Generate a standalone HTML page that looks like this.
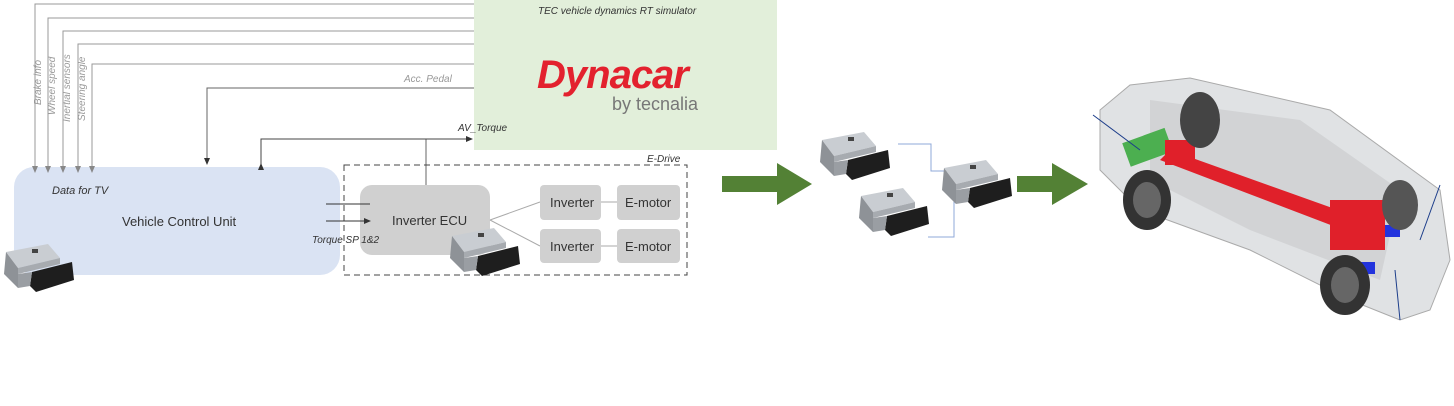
<!DOCTYPE html>
<html><head><meta charset="utf-8"><style>
body{margin:0;background:#fff;width:1454px;height:401px;overflow:hidden}
text{font-family:"Liberation Sans",sans-serif}
</style></head><body>
<svg width="1454" height="401" viewBox="0 0 1454 401" xmlns="http://www.w3.org/2000/svg">
<defs>
<marker id="a" markerWidth="8" markerHeight="8" refX="6" refY="4" orient="auto"><path d="M0,1 L7,4 L0,7z" fill="#333"/></marker>
<marker id="g" markerWidth="8" markerHeight="8" refX="6" refY="4" orient="auto"><path d="M0,1 L7,4 L0,7z" fill="#888"/></marker>
<g id="ecu">
<path d="M4,8 L46,0 L58,14 L16,24z" fill="#c9cdd2"/>
<path d="M4,8 L16,24 L16,44 L2,30z" fill="#8e9297"/>
<path d="M16,24 L58,14 L58,20 L16,30z" fill="#a7abb0"/>
<path d="M30,28 L70,18 L72,36 L34,48 L28,42z" fill="#1e1e1e"/>
<path d="M16,30 L30,28 L28,42 L16,44z" fill="#9a9ea3"/>
<rect x="30" y="5" width="6" height="4" fill="#444"/>
</g>
</defs>
<!-- VCU -->
<rect x="14" y="167" width="326" height="108" rx="20" fill="#dae3f3"/>
<text x="52" y="194" font-size="11" font-style="italic" fill="#333">Data for TV</text>
<text x="122" y="226" font-size="13" fill="#333">Vehicle Control Unit</text>
<!-- green sim -->
<rect x="474" y="0" width="303" height="150" fill="#e2efda"/>
<text x="538" y="14" font-size="10" font-style="italic" fill="#333">TEC vehicle dynamics RT simulator</text>
<text x="537" y="88" font-size="40" font-weight="bold" font-style="italic" fill="#e3212e" letter-spacing="-1">Dynacar</text>
<text x="612" y="110" font-size="18" fill="#777">by tecnalia</text>
<!-- signal lines -->
<g stroke="#999" fill="none" stroke-width="1">
<path d="M474,4 H35 V172" marker-end="url(#g)"/>
<path d="M474,18 H48 V172" marker-end="url(#g)"/>
<path d="M474,31 H63 V172" marker-end="url(#g)"/>
<path d="M474,44 H78 V172" marker-end="url(#g)"/>
<path d="M474,64 H92 V172" marker-end="url(#g)"/>
</g>
<g font-size="10" font-style="italic" fill="#999">
<text transform="translate(41,105) rotate(-90)">Brake info</text>
<text transform="translate(55,115) rotate(-90)">Wheel speed</text>
<text transform="translate(70,122) rotate(-90)">Inertial sensors</text>
<text transform="translate(85,121) rotate(-90)">Steering angle</text>
<text x="404" y="82">Acc. Pedal</text>
</g>
<path d="M474,88 H207 V164" stroke="#666" fill="none" marker-end="url(#a)"/>
<path d="M426,185 V139" stroke="#666" fill="none"/>
<path d="M261,164 V139 H472" stroke="#444" fill="none" marker-end="url(#a)" marker-start="url(#a)"/>
<text x="458" y="131" font-size="10" font-style="italic" fill="#333">AV_Torque</text>
<!-- E-Drive -->
<rect x="344" y="165" width="343" height="110" fill="none" stroke="#444" stroke-dasharray="6,4"/>
<text x="647" y="162" font-size="10" font-style="italic" fill="#333">E-Drive</text>
<rect x="360" y="185" width="130" height="70" rx="12" fill="#d0d0d0"/>
<text x="392" y="225" font-size="13" fill="#333">Inverter ECU</text>
<path d="M326,204 H370 M326,221 H370" stroke="#333" marker-end="url(#a)"/>
<text x="312" y="243" font-size="10" font-style="italic" fill="#333">Torque SP 1&amp;2</text>
<path d="M490,220 L540,202 M490,220 L540,246 M601,202 H617 M601,246 H617" stroke="#aaa"/>
<g fill="#d0d0d0"><rect x="540" y="185" width="61" height="35" rx="4"/><rect x="540" y="229" width="61" height="34" rx="4"/><rect x="617" y="185" width="63" height="35" rx="4"/><rect x="617" y="229" width="63" height="34" rx="4"/></g>
<g font-size="13" fill="#333"><text x="550" y="207">Inverter</text><text x="550" y="251">Inverter</text><text x="625" y="207">E-motor</text><text x="625" y="251">E-motor</text></g>
<use href="#ecu" x="2" y="244"/>
<use href="#ecu" x="448" y="228"/>
<!-- green arrows -->
<path d="M722,176 H777 V163 L812,184 L777,205 V192 H722z" fill="#538135"/>
<path d="M1017,176 H1052 V163 L1088,184 L1052,205 V192 H1017z" fill="#538135"/>
<!-- ecus middle -->
<path d="M898,144 H931 V171 H963 M928,237 H954 V200" stroke="#8fa8d8" fill="none"/>
<use href="#ecu" x="818" y="132"/>
<use href="#ecu" x="857" y="188"/>
<use href="#ecu" x="940" y="160"/>
<!-- car -->
<path d="M1100,110 L1130,85 L1190,78 L1330,110 L1440,190 L1450,260 L1430,310 L1400,320 L1350,300 L1250,250 L1140,210 L1100,170z" fill="#e0e2e4" stroke="#aaa"/>
<path d="M1150,100 L1300,120 L1400,190 L1380,280 L1250,230 L1150,180z" fill="#c8cacc" opacity="0.6"/>
<rect x="1125" y="135" width="45" height="25" fill="#4caf50" transform="rotate(-20 1147 147)"/>
<path d="M1160,160 L1370,240 L1380,225 L1170,150z" fill="#e0202a"/>
<rect x="1330" y="200" width="55" height="50" fill="#e0202a"/>
<rect x="1165" y="140" width="30" height="25" fill="#e0202a"/>
<rect x="1385" y="225" width="15" height="12" fill="#2233dd"/>
<rect x="1360" y="262" width="15" height="12" fill="#2233dd"/>
<ellipse cx="1147" cy="200" rx="24" ry="30" fill="#333"/><ellipse cx="1147" cy="200" rx="14" ry="18" fill="#666"/>
<ellipse cx="1345" cy="285" rx="25" ry="30" fill="#333"/><ellipse cx="1345" cy="285" rx="14" ry="18" fill="#666"/>
<ellipse cx="1200" cy="120" rx="20" ry="28" fill="#444"/>
<ellipse cx="1400" cy="205" rx="18" ry="25" fill="#555"/>
<path d="M1093,115 L1140,150 M1440,185 L1420,240 M1395,270 L1400,320" stroke="#1c3d8a"/>
</svg>
</body></html>
